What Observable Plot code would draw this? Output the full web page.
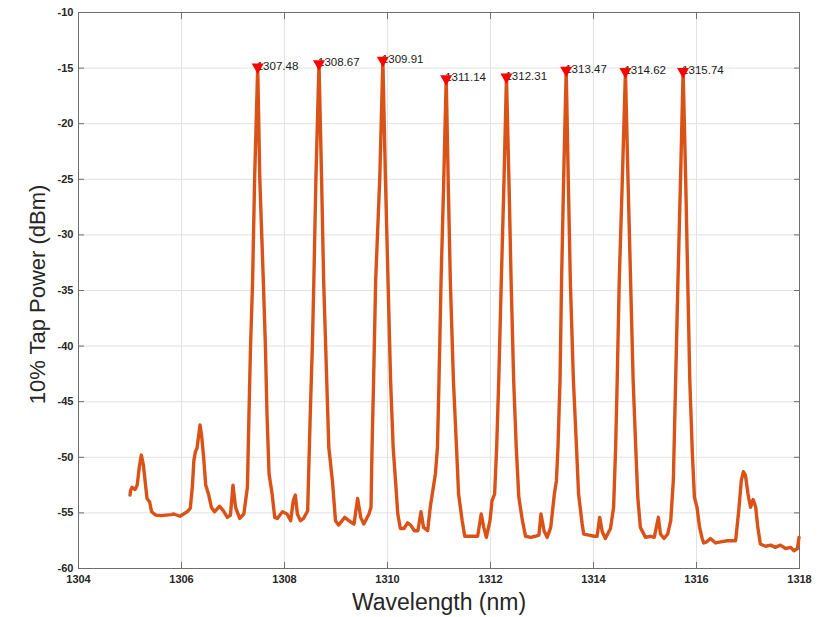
<!DOCTYPE html>
<html>
<head>
<meta charset="utf-8">
<script src="https://cdn.jsdelivr.net/npm/d3@7"></script>
<script src="https://cdn.jsdelivr.net/npm/@observablehq/plot@0.6"></script>
<style>
  html, body { margin: 0; padding: 0; background: #fff; }
  #chart { width: 825px; height: 617px; }
</style>
</head>
<body>
<div id="chart"></div>
<script>
// ---- data ----
const wavelength = [
  1305.00, 1305.01, 1305.04, 1305.10, 1305.14, 1305.18, 1305.22, 1305.26, 1305.30, 1305.33,
  1305.38, 1305.42, 1305.50, 1305.60, 1305.70, 1305.80, 1305.85, 1305.97, 1306.11, 1306.17,
  1306.21, 1306.24, 1306.27, 1306.30, 1306.36, 1306.39, 1306.43, 1306.47, 1306.53, 1306.58,
  1306.64, 1306.74, 1306.81, 1306.89, 1306.95, 1307.00, 1307.05, 1307.13, 1307.21, 1307.28,
  1307.31, 1307.34, 1307.38, 1307.42, 1307.48, 1307.52, 1307.59, 1307.63, 1307.66, 1307.70,
  1307.76, 1307.81, 1307.86, 1307.96, 1308.05, 1308.12, 1308.17, 1308.21, 1308.25, 1308.31,
  1308.37, 1308.45, 1308.50, 1308.54, 1308.57, 1308.61, 1308.67, 1308.72, 1308.76, 1308.82,
  1308.86, 1308.93, 1308.99, 1309.05, 1309.17, 1309.28, 1309.35, 1309.42, 1309.48, 1309.54,
  1309.64, 1309.68, 1309.70, 1309.73, 1309.77, 1309.85, 1309.91, 1309.96, 1310.01, 1310.06,
  1310.11, 1310.16, 1310.20, 1310.25, 1310.32, 1310.39, 1310.45, 1310.52, 1310.59, 1310.65,
  1310.70, 1310.78, 1310.83, 1310.89, 1310.93, 1310.97, 1311.00, 1311.04, 1311.09, 1311.14,
  1311.18, 1311.22, 1311.28, 1311.34, 1311.38, 1311.45, 1311.50, 1311.58, 1311.68, 1311.75,
  1311.82, 1311.87, 1311.92, 1311.99, 1312.03, 1312.08, 1312.12, 1312.16, 1312.21, 1312.26,
  1312.31, 1312.36, 1312.40, 1312.45, 1312.50, 1312.55, 1312.62, 1312.68, 1312.78, 1312.87,
  1312.94, 1312.98, 1313.04, 1313.10, 1313.17, 1313.24, 1313.28, 1313.31, 1313.35, 1313.38,
  1313.42, 1313.47, 1313.51, 1313.55, 1313.61, 1313.67, 1313.71, 1313.78, 1313.81, 1313.91,
  1314.01, 1314.07, 1314.12, 1314.17, 1314.23, 1314.33, 1314.39, 1314.43, 1314.46, 1314.50,
  1314.56, 1314.62, 1314.67, 1314.72, 1314.77, 1314.82, 1314.86, 1314.91, 1315.01, 1315.11,
  1315.18, 1315.26, 1315.30, 1315.37, 1315.44, 1315.50, 1315.55, 1315.58, 1315.61, 1315.64,
  1315.69, 1315.74, 1315.79, 1315.83, 1315.87, 1315.92, 1315.96, 1316.01, 1316.06, 1316.11,
  1316.14, 1316.20, 1316.27, 1316.37, 1316.47, 1316.60, 1316.76, 1316.82, 1316.87, 1316.91,
  1316.95, 1317.00, 1317.05, 1317.10, 1317.15, 1317.19, 1317.24, 1317.34, 1317.44, 1317.53,
  1317.63, 1317.73, 1317.83, 1317.89, 1317.96, 1317.99
];
const power = [
  -53.4, -53.0, -52.7, -52.9, -52.5, -50.9, -49.8, -50.7, -52.4, -53.7,
  -54.0, -54.9, -55.2, -55.25, -55.2, -55.15, -55.1, -55.3, -54.9, -54.6,
  -52.7, -50.3, -49.5, -49.2, -47.1, -48.0, -50.0, -52.5, -53.4, -54.5,
  -54.9, -54.4, -54.8, -55.4, -55.2, -52.5, -54.5, -55.5, -55.1, -52.7,
  -46.1, -40.1, -34.3, -24.9, -14.9, -24.9, -34.3, -40.1, -46.1, -51.5,
  -53.3, -55.4, -55.5, -54.9, -55.1, -55.7, -53.9, -53.4, -55.1, -55.7,
  -55.5, -54.8, -46.1, -40.1, -34.1, -24.9, -14.6, -24.9, -34.1, -43.1,
  -49.1, -52.1, -55.7, -56.1, -55.4, -55.8, -56.0, -53.7, -55.4, -56.0,
  -55.1, -54.5, -49.1, -43.1, -34.1, -24.9, -14.3, -24.9, -34.1, -43.1,
  -49.1, -52.4, -55.1, -56.4, -56.4, -55.9, -56.1, -56.6, -56.6, -54.9,
  -56.3, -56.6, -54.5, -52.7, -51.5, -49.1, -43.1, -34.1, -25.5, -15.95,
  -25.5, -34.1, -43.1, -49.1, -53.3, -55.7, -57.1, -57.1, -57.1, -57.1,
  -55.1, -56.3, -57.2, -55.7, -53.9, -53.3, -49.1, -43.1, -34.1, -25.5,
  -15.8, -25.5, -34.1, -43.1, -49.1, -53.6, -55.7, -57.1, -57.2, -57.1,
  -57.0, -55.1, -56.6, -57.2, -56.3, -53.3, -52.1, -49.1, -43.1, -34.1,
  -25.0, -15.2, -25.0, -34.1, -43.1, -49.1, -53.3, -56.0, -56.9, -57.0,
  -57.1, -57.1, -55.4, -56.7, -57.3, -56.4, -54.5, -49.1, -43.1, -34.1,
  -25.0, -15.3, -25.0, -34.1, -43.1, -49.1, -53.6, -56.3, -57.2, -57.1,
  -57.2, -55.4, -56.9, -57.3, -56.9, -55.7, -52.1, -46.1, -40.1, -34.1,
  -25.0, -15.3, -25.0, -34.1, -43.1, -49.7, -53.6, -54.5, -56.3, -57.3,
  -57.7, -57.6, -57.3, -57.7, -57.6, -57.5, -57.5, -54.8, -52.1, -51.3,
  -51.6, -53.3, -54.5, -53.8, -54.5, -56.3, -57.8, -58.0, -57.9, -58.1,
  -57.9, -58.2, -58.1, -58.4, -58.2, -57.2
];
const peakWavelength = [1307.48, 1308.67, 1309.91, 1311.14, 1312.31, 1313.47, 1314.62, 1315.74];
const peakPower = [-14.9, -14.6, -14.3, -15.95, -15.8, -15.2, -15.3, -15.3];
const peakLabels = ["1307.48", "1308.67", "1309.91", "1311.14", "1312.31", "1313.47", "1314.62", "1315.74"];
const xTicks = [1304, 1306, 1308, 1310, 1312, 1314, 1316, 1318];
const yTicks = [-60, -55, -50, -45, -40, -35, -30, -25, -20, -15, -10];
const xLabel = "Wavelength (nm)";
const yLabel = "10% Tap Power (dBm)";

// ---- tables built from the arrays ----
const trace = wavelength.map((w, i) => ({w, p: power[i]}));
const peaks = peakWavelength.map((w, i) => ({w, p: peakPower[i], label: peakLabels[i]}));

const axisColor = "#6e6e6e";
const tickText = {fontWeight: "bold", fontSize: 11, fill: "#262626", stroke: "none", label: null};

const chart = Plot.plot({
  width: 825,
  height: 617,
  marginLeft: 78,
  marginRight: 26,
  marginTop: 12,
  marginBottom: 49,
  x: {domain: [1304, 1318]},
  y: {domain: [-60, -10]},
  style: {fontFamily: "'Liberation Sans', Arial, Helvetica, sans-serif", background: "#fff", overflow: "visible"},
  marks: [
    Plot.gridX(xTicks, {stroke: "#e2e2e2", strokeOpacity: 1}),
    Plot.gridY(yTicks, {stroke: "#e2e2e2", strokeOpacity: 1}),
    Plot.frame({stroke: axisColor, strokeWidth: 1}),
    // inward ticks on all four sides
    Plot.axisX(xTicks, {anchor: "bottom", tickSize: -6, stroke: axisColor, fill: "none", label: null}),
    Plot.axisX(xTicks, {anchor: "top", tickSize: -6, stroke: axisColor, fill: "none", label: null}),
    Plot.axisY(yTicks, {anchor: "left", tickSize: -6, stroke: axisColor, fill: "none", label: null}),
    Plot.axisY(yTicks, {anchor: "right", tickSize: -6, stroke: axisColor, fill: "none", label: null}),
    // tick labels
    Plot.axisX(xTicks, {anchor: "bottom", tickSize: 0, tickPadding: 7, tickFormat: d => String(d), ...tickText}),
    Plot.axisY(yTicks, {anchor: "left", tickSize: 0, tickPadding: 5, tickFormat: d => String(d), ...tickText}),
    // axis titles
    Plot.text([xLabel], {frameAnchor: "bottom", textAnchor: "middle", lineAnchor: "middle", dy: 34, fontSize: 23, fill: "#262626", text: d => d}),
    Plot.text([yLabel], {frameAnchor: "left", textAnchor: "middle", lineAnchor: "middle", rotate: -90, dx: -41, dy: 4, fontSize: 22, fill: "#262626", text: d => d}),
    // spectrum trace
    Plot.line(trace, {x: "w", y: "p", stroke: "#D95319", strokeWidth: 3.4, strokeLinejoin: "round", strokeLinecap: "round"}),
    // peak labels + markers
    Plot.text(peaks, {x: "w", y: "p", text: "label", textAnchor: "start", dx: -1, dy: -1, fontSize: 11.5, fill: "#1a1a1a"}),
    Plot.dot(peaks, {x: "w", y: "p", symbol: "triangle", rotate: 180, r: 4.5, fill: "#ff0000", stroke: "none"})
  ]
});
document.getElementById("chart").appendChild(chart);
</script>
</body>
</html>
